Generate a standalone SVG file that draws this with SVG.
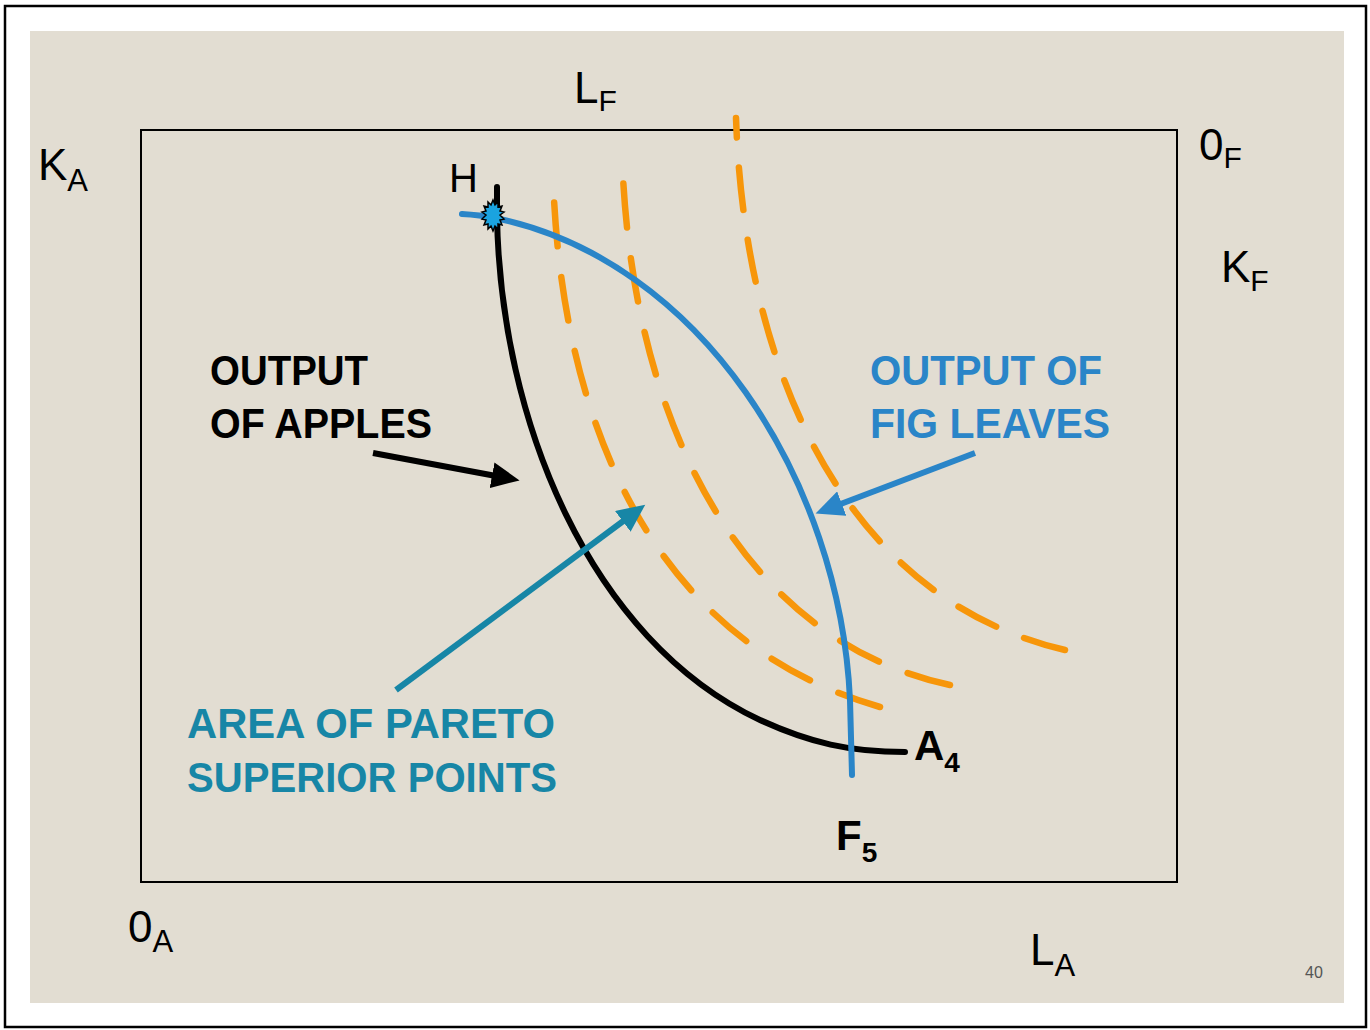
<svg xmlns="http://www.w3.org/2000/svg" width="1370" height="1030" viewBox="0 0 1370 1030">
<defs>
<style>
.lbl{font-family:"Liberation Sans",Arial,sans-serif;fill:#000}
.big{font-family:"Liberation Sans",Arial,sans-serif;font-weight:bold;font-size:42px}
.curve{fill:none;stroke-width:6;stroke-linecap:round}
.dash{fill:none;stroke:#F7960A;stroke-width:6.5;stroke-linecap:round;stroke-dasharray:44 31}
.arr{fill:none;stroke-width:6}
</style>
<marker id="hk" markerUnits="userSpaceOnUse" markerWidth="30" markerHeight="26" refX="4" refY="13" orient="auto"><path d="M0,0 L28,13 L0,26 Z" fill="#000"/></marker>
<marker id="ht" markerUnits="userSpaceOnUse" markerWidth="30" markerHeight="26" refX="4" refY="13" orient="auto"><path d="M0,0 L28,13 L0,26 Z" fill="#1786A6"/></marker>
<marker id="hb" markerUnits="userSpaceOnUse" markerWidth="30" markerHeight="26" refX="4" refY="13" orient="auto"><path d="M0,0 L28,13 L0,26 Z" fill="#2A85C8"/></marker>
</defs>
<rect x="5" y="6" width="1361" height="1021" fill="#fff" stroke="#000" stroke-width="2.5"/>
<rect x="30" y="31" width="1314" height="972" fill="#E2DDD2"/>
<rect x="141" y="130" width="1036" height="752" fill="none" stroke="#000" stroke-width="2"/>

<g id="connectors">
<path class="dash" d="M880,707 C645,640 560,410 553,175"/>
<path class="dash" d="M950,685 C740,640 630,420 622,153"/>
<path class="dash" pathLength="695" d="M1065,650 C850,600 745,380 736,118"/>
<path class="curve" stroke="#000" d="M497,187 L497,215 C500,420 590,640 760,720 C810,743 850,752 905,752"/>
<path class="curve" stroke="#2A85C8" d="M462,214 Q480,215 495,218 C700,260 840,480 850,700 L852,775"/>
<line class="arr" stroke="#000" x1="373" y1="453" x2="496" y2="476" marker-end="url(#hk)"/>
<line class="arr" stroke="#1786A6" x1="396" y1="690" x2="626" y2="519" marker-end="url(#ht)"/>
<line class="arr" stroke="#2A85C8" x1="975" y1="453" x2="838" y2="505" marker-end="url(#hb)"/>
</g>

<g id="point-H">
<polygon points="493,200 495,205 498,202 498,207 502,206 500,211 504,212 500,215 504,219 500,220 502,225 498,224 498,229 495,226 493,231 491,226 488,229 488,224 484,225 486,220 482,219 486,215 482,212 486,211 484,206 488,207 488,202 491,205" fill="#1AA3E0" stroke="#000" stroke-width="1.5"/>
<text class="lbl" x="449" y="192" font-size="40">H</text>
</g>

<g id="axis-labels">
<text class="lbl" x="574" y="103" font-size="44">L<tspan font-size="30" dy="8">F</tspan></text>
<text class="lbl" x="38" y="180" font-size="44">K<tspan font-size="31" dy="11">A</tspan></text>
<text class="lbl" x="1199" y="160" font-size="44">0<tspan font-size="30" dy="8">F</tspan></text>
<text class="lbl" x="1221" y="282" font-size="44">K<tspan font-size="30" dy="9">F</tspan></text>
<text class="lbl" x="128" y="942" font-size="44">0<tspan font-size="31" dy="10">A</tspan></text>
<text class="lbl" x="1030" y="965" font-size="44">L<tspan font-size="31" dy="11">A</tspan></text>
<text x="1305" y="978" font-family="Liberation Sans,Arial,sans-serif" font-size="16" fill="#555">40</text>
</g>

<g id="label-A4"><text class="big" x="914" y="760" font-size="40">A<tspan font-size="28" dy="12">4</tspan></text></g>
<g id="label-F5"><text class="big" x="836" y="850" font-size="42">F<tspan font-size="28" dy="12">5</tspan></text></g>

<g id="label-apples">
<text class="big" x="210" y="385" textLength="158" lengthAdjust="spacingAndGlyphs">OUTPUT</text>
<text class="big" x="210" y="438" textLength="222" lengthAdjust="spacingAndGlyphs">OF APPLES</text>
</g>
<g id="label-figleaves" fill="#2A85C8">
<text class="big" x="870" y="385" textLength="232" lengthAdjust="spacingAndGlyphs">OUTPUT OF</text>
<text class="big" x="870" y="438" textLength="240" lengthAdjust="spacingAndGlyphs">FIG LEAVES</text>
</g>
<g id="label-pareto" fill="#1786A6">
<text class="big" x="187" y="738" textLength="368" lengthAdjust="spacingAndGlyphs">AREA OF PARETO</text>
<text class="big" x="187" y="792" textLength="370" lengthAdjust="spacingAndGlyphs">SUPERIOR POINTS</text>
</g>
</svg>
